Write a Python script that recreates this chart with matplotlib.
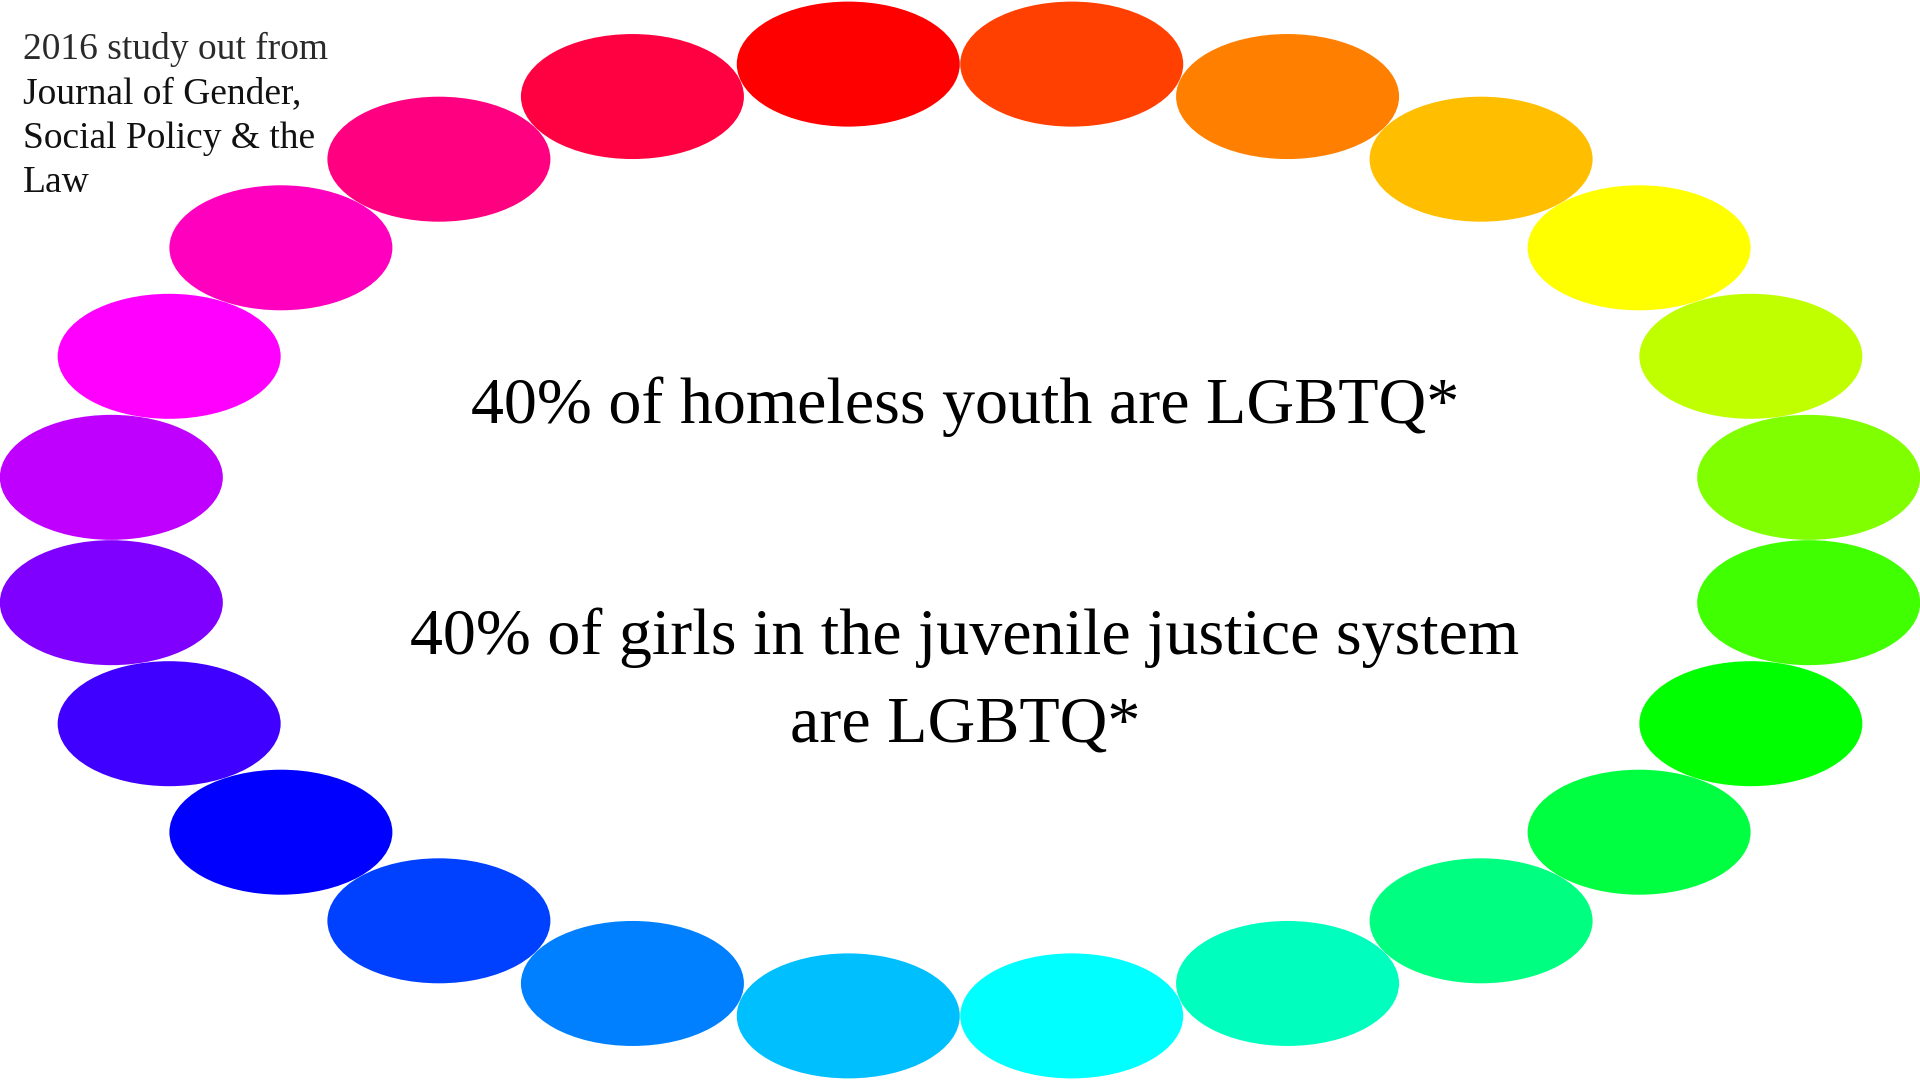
import numpy as np
import matplotlib
matplotlib.use("Agg")
import matplotlib.pyplot as plt
from matplotlib.patches import Ellipse

# ring of colours, clockwise from the top (red) every 15 degrees of hue
ring_colors = ["#FF0000", "#FF4000", "#FF8000", "#FFBF00", "#FFFF00", "#BFFF00",
               "#80FF00", "#40FF00", "#00FF00", "#00FF40", "#00FF80", "#00FFBF",
               "#00FFFF", "#00BFFF", "#0080FF", "#0040FF", "#0000FF", "#4000FF",
               "#8000FF", "#BF00FF", "#FF00FF", "#FF00BF", "#FF0080", "#FF0040"]

source_lines = ["2016 study out from", "Journal of Gender,", "Social Policy & the", "Law"]
stat_lines = ["40% of homeless youth are LGBTQ*",
              "40% of girls in the juvenile justice system",
              "are LGBTQ*"]

fig = plt.figure(figsize=(19.2, 10.8), dpi=100)
ax = fig.add_axes([0, 0, 1, 1])
ax.set_xlim(0, 1920)
ax.set_ylim(1080, 0)
ax.axis("off")

# ring layout (pixels)
cx, cy = 960, 540
rx, ry = 856, 480
n = len(ring_colors)
for i, col in enumerate(ring_colors):
    a = np.deg2rad(90 + 180 / n - 360 / n * i)
    x = cx + rx * np.cos(a)
    y = cy - ry * np.sin(a)
    ax.add_patch(Ellipse((x, y), 223, 125, facecolor=col, edgecolor="none"))

# source note, top left
for k, line in enumerate(source_lines):
    ax.text(23, 59 + k * 44.5, line, fontsize=27, family="Liberation Serif",
            color="#111111" if k else "#2a2a2a", ha="left", va="baseline")

# main statements
main_font = dict(fontsize=47.5, family="Liberation Serif", color="black",
                 ha="center", va="baseline")
ax.text(965, 423, stat_lines[0], **main_font)
ax.text(965, 654, stat_lines[1], **main_font)
ax.text(965, 742, stat_lines[2], **main_font)

fig.savefig("out.png", dpi=100, facecolor="white")
